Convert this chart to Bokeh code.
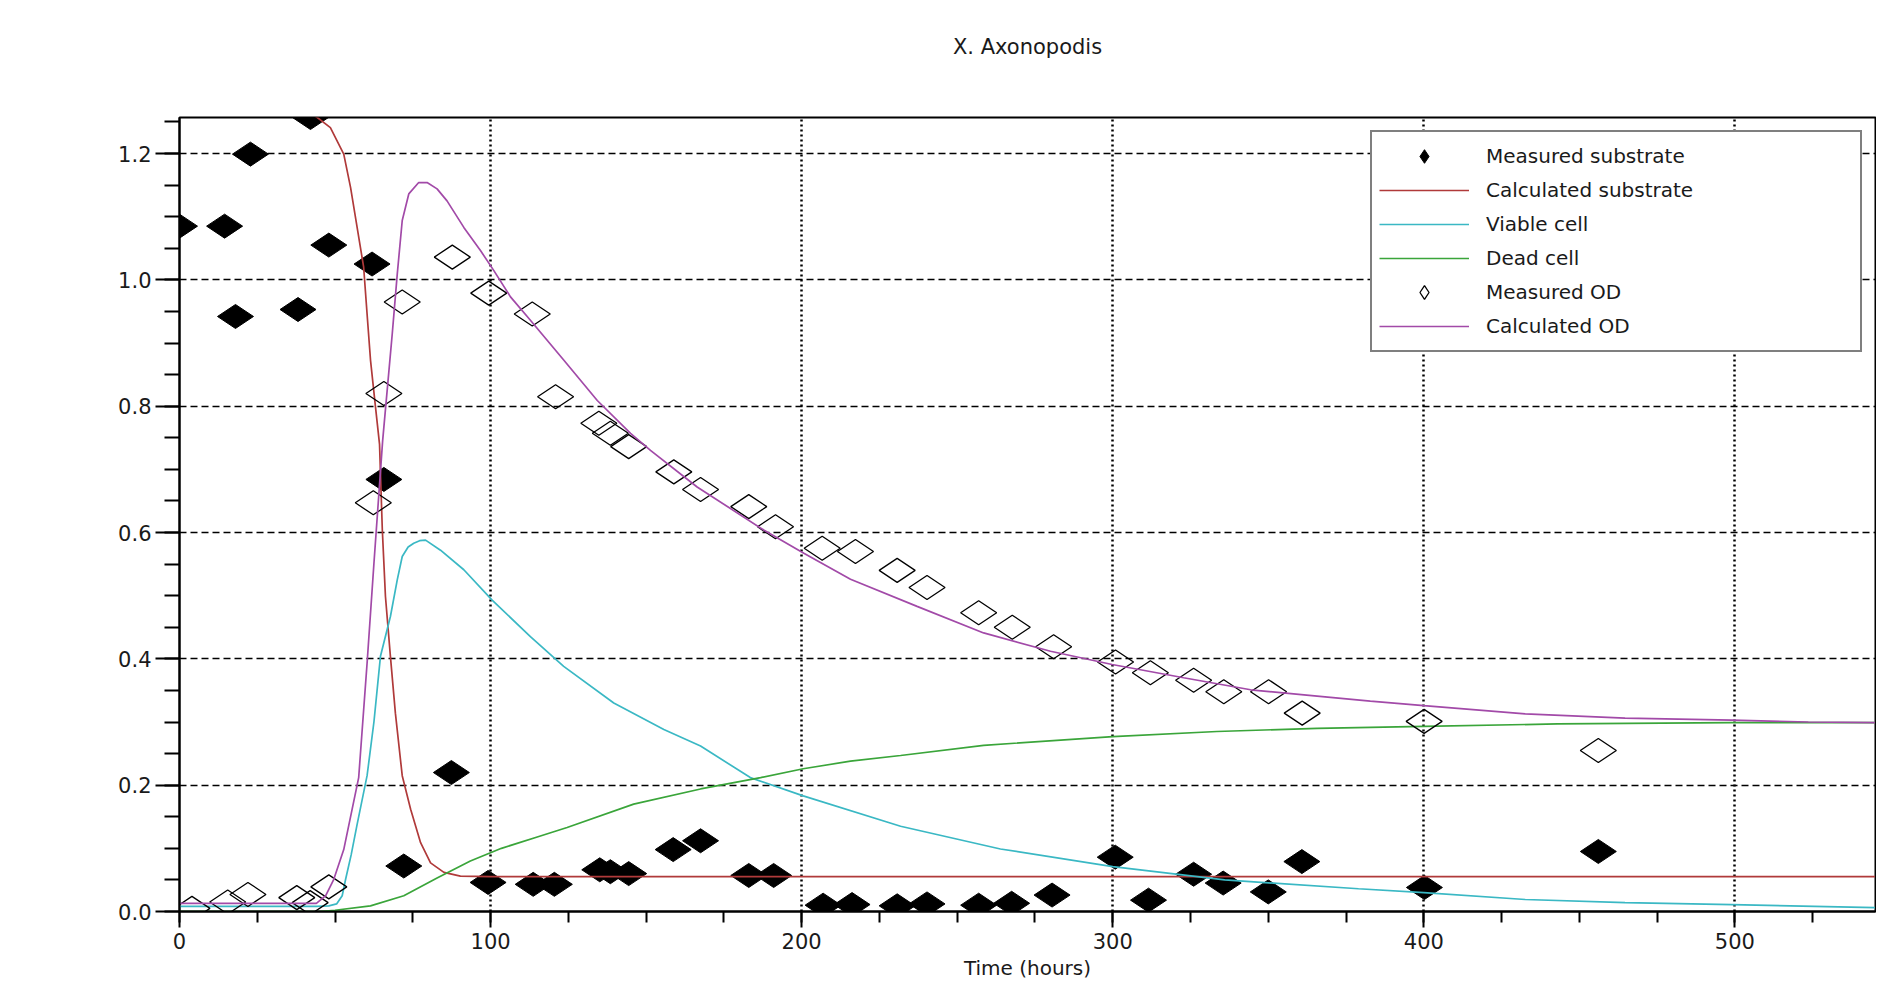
import math
from bokeh.plotting import figure
from bokeh.models import (SingleIntervalTicker, NumeralTickFormatter, Legend, LegendItem,
                          Range1d, Title)
from bokeh.embed import file_html
from bokeh.resources import INLINE

# ---------------- data ----------------
title_text = "X. Axonopodis"
x_label = "Time (hours)"

sub_t = [0, 14.5, 18, 22.8, 38.1, 42.1, 48, 61.9, 65.7, 72.1, 87.4, 99.2, 113.7, 120.5,
         135.1, 138.5, 144.4, 158.7, 167.5, 183, 191, 206.9, 216.2, 230.7, 240.3, 256.9,
         267.5, 280.5, 300.8, 311.5, 326, 335.5, 350, 360.8, 400.2, 456.1]
sub_v = [1.085, 1.085, 0.942, 1.199, 0.953, 1.257, 1.055, 1.025, 0.684, 0.072, 0.220, 0.046,
         0.043, 0.043, 0.066, 0.063, 0.060, 0.098, 0.112, 0.057, 0.057, 0.010, 0.011, 0.009,
         0.012, 0.010, 0.013, 0.026, 0.086, 0.018, 0.059, 0.045, 0.031, 0.079, 0.038, 0.095]

od_t = [4, 15.5, 22, 37.7, 42, 48, 62.3, 65.7, 71.6, 87.7, 99.4, 113.4, 120.9, 134.8, 138.5,
        144.4, 158.9, 167.5, 183, 191.6, 206.6, 217.3, 230.7, 240.3, 256.9, 267.7, 281, 300.9,
        312.1, 326, 335.7, 350.1, 360.9, 400.1, 456.1]
od_v = [0.005, 0.015, 0.027, 0.022, 0.014, 0.039, 0.647, 0.820, 0.965, 1.036, 0.979, 0.946,
        0.815, 0.773, 0.757, 0.736, 0.696, 0.668, 0.641, 0.609, 0.575, 0.570, 0.540, 0.513,
        0.473, 0.450, 0.419, 0.395, 0.378, 0.366, 0.348, 0.348, 0.314, 0.301, 0.255]

calc_sub_t = [0, 20, 35, 44.3, 48.5, 52.8, 55, 57.1, 59.2, 60.3, 61.4, 63, 64.3, 65.2, 66.2,
              67.8, 69.4, 71.6, 74.3, 77.5, 80.7, 85, 90.3, 100, 545]
calc_sub_v = [1.31, 1.30, 1.285, 1.257, 1.241, 1.199, 1.146, 1.083, 1.02, 0.946, 0.873, 0.799,
              0.74, 0.604, 0.499, 0.404, 0.314, 0.215, 0.162, 0.109, 0.077, 0.062, 0.056,
              0.0553, 0.0553]

viable_t = [0, 44, 48, 50.5, 52.3, 53.4, 55.2, 57.1, 60.3, 62.5, 64.6, 67.8, 70, 71.6, 73.5,
            75.3, 77.2, 79.1, 83.9, 91.4, 100.5, 112.8, 123.5, 139.6, 155.7, 167.5, 183.5,
            200.5, 231.8, 263.9, 300, 336, 379, 400, 432.6, 464.7, 499, 545]
viable_v = [0.008, 0.008, 0.009, 0.012, 0.025, 0.051, 0.09, 0.138, 0.215, 0.30, 0.404, 0.467,
            0.525, 0.562, 0.577, 0.583, 0.587, 0.588, 0.572, 0.541, 0.493, 0.435, 0.388, 0.330,
            0.288, 0.262, 0.212, 0.183, 0.135, 0.099, 0.071, 0.050, 0.036, 0.030, 0.019, 0.014,
            0.011, 0.006]

dead_t = [0, 45, 50, 61.4, 72.1, 82.8, 93.5, 103.5, 115, 124.6, 146, 167.5, 186.8, 200.5,
          215.7, 231.8, 258.5, 300, 333.5, 365.7, 400, 443, 499, 545]
dead_v = [0, 0, 0.002, 0.009, 0.025, 0.053, 0.08, 0.10, 0.118, 0.133, 0.170, 0.194, 0.212,
          0.226, 0.238, 0.247, 0.263, 0.277, 0.285, 0.290, 0.293, 0.297, 0.299, 0.299]

calc_od_t = [0, 44, 47, 49.6, 52.8, 55.5, 57.6, 60.3, 62.5, 65.3, 68.4, 70, 71.6, 73.7, 76.9,
             79.6, 82.8, 86, 91.4, 96.8, 101, 106.4, 112.8, 123.5, 134.3, 145, 151.4, 166.4,
             187.8, 200.7, 215.7, 237.1, 258.5, 280, 299.8, 322.8, 344.3, 365.7, 382.8, 400,
             432.6, 464.7, 499, 523.6, 545]
calc_od_v = [0.013, 0.013, 0.025, 0.051, 0.098, 0.162, 0.212, 0.393, 0.551, 0.745, 0.915, 1.009,
             1.094, 1.136, 1.154, 1.154, 1.144, 1.125, 1.083, 1.046, 1.015, 0.973, 0.936, 0.873,
             0.809, 0.757, 0.730, 0.672, 0.604, 0.567, 0.526, 0.483, 0.441, 0.412, 0.391, 0.370,
             0.351, 0.341, 0.333, 0.326, 0.313, 0.306, 0.303, 0.300, 0.299]

series_names = ["Measured substrate", "Calculated substrate", "Viable cell", "Dead cell",
                "Measured OD", "Calculated OD"]

# ---------------- styling ----------------
FONT = "DejaVu Sans"
TXT = "#1a1a1a"
C_SUB = "#b03a3a"
C_VIA = "#3ab8c4"
C_DEAD = "#3aa53a"
C_OD = "#a24aa8"

p = figure(width=1876, height=982, output_backend="svg", toolbar_location=None,
           title=None,
           x_range=Range1d(0, 545.2), y_range=Range1d(0, 1.257),
           min_border_left=179, min_border_right=1, min_border_top=117,
           min_border_bottom=70)
p.background_fill_color = "white"
p.border_fill_color = "white"
p.outline_line_color = "black"
p.outline_line_width = 2

# title: an empty spacer next to the frame, then the real title above it
spacer = Title(text=" ", text_font=FONT, text_font_size="21px", standoff=33,
               align="center")
main_title = Title(text=title_text, align="center", text_font=FONT, text_font_size="21px",
                   text_font_style="normal", text_color=TXT, standoff=0)
p.add_layout(spacer, "above")
p.add_layout(main_title, "above")

# axes
for ax in (p.xaxis[0], p.yaxis[0]):
    ax.axis_line_color = "black"
    ax.axis_line_width = 2
    ax.major_tick_line_color = "black"
    ax.major_tick_line_width = 2
    ax.minor_tick_line_color = "black"
    ax.minor_tick_line_width = 2
    ax.major_tick_in = 0
    ax.minor_tick_in = 0
    ax.major_label_text_font = FONT
    ax.major_label_text_font_size = "21px"
    ax.major_label_text_color = TXT

p.xaxis.ticker = SingleIntervalTicker(interval=100, num_minor_ticks=4)
p.xaxis.major_tick_out = 16
p.xaxis.minor_tick_out = 11
p.xaxis.major_label_standoff = 5
p.xaxis.axis_label = x_label
p.xaxis.axis_label_text_font = FONT
p.xaxis.axis_label_text_font_size = "20px"
p.xaxis.axis_label_text_font_style = "normal"
p.xaxis.axis_label_text_color = TXT
p.xaxis.axis_label_standoff = 4

p.yaxis.ticker = SingleIntervalTicker(interval=0.2, num_minor_ticks=4)
p.yaxis.formatter = NumeralTickFormatter(format="0.0")
p.yaxis.major_tick_out = 24
p.yaxis.minor_tick_out = 15
p.yaxis.major_label_standoff = 4

# grids
p.xgrid.ticker = SingleIntervalTicker(interval=100)
p.xgrid.grid_line_color = "black"
p.xgrid.grid_line_width = 2.5
p.xgrid.grid_line_dash = "2 3"
p.ygrid.ticker = SingleIntervalTicker(interval=0.2)
p.ygrid.grid_line_color = "black"
p.ygrid.grid_line_width = 1.5
p.ygrid.grid_line_dash = "7 4"

# glyphs
r_msub = p.scatter(sub_t, sub_v, marker="diamond", size=36, angle=math.pi / 2,
                   fill_color="black", line_color="black")
r_csub = p.line(calc_sub_t, calc_sub_v, line_color=C_SUB, line_width=1.7)
r_via = p.line(viable_t, viable_v, line_color=C_VIA, line_width=1.7)
r_dead = p.line(dead_t, dead_v, line_color=C_DEAD, line_width=1.7)
r_mod = p.scatter(od_t, od_v, marker="diamond", size=36, angle=math.pi / 2,
                  fill_color="white", fill_alpha=0.0, line_color="black", line_width=1.3)
r_cod = p.line(calc_od_t, calc_od_v, line_color=C_OD, line_width=1.7)

renderers = [r_msub, r_csub, r_via, r_dead, r_mod, r_cod]
legend = Legend(items=[LegendItem(label=n, renderers=[r]) for n, r in zip(series_names, renderers)],
                location="top_right", margin=13, padding=7, spacing=0,
                glyph_width=90, glyph_height=34, label_height=34, label_width=367,
                label_standoff=17, border_line_color="black", border_line_width=2,
                background_fill_color="white", background_fill_alpha=1.0,
                label_text_font=FONT, label_text_font_size="20px", label_text_color=TXT)
p.add_layout(legend)

open("out.html", "w").write(file_html(p, INLINE))
